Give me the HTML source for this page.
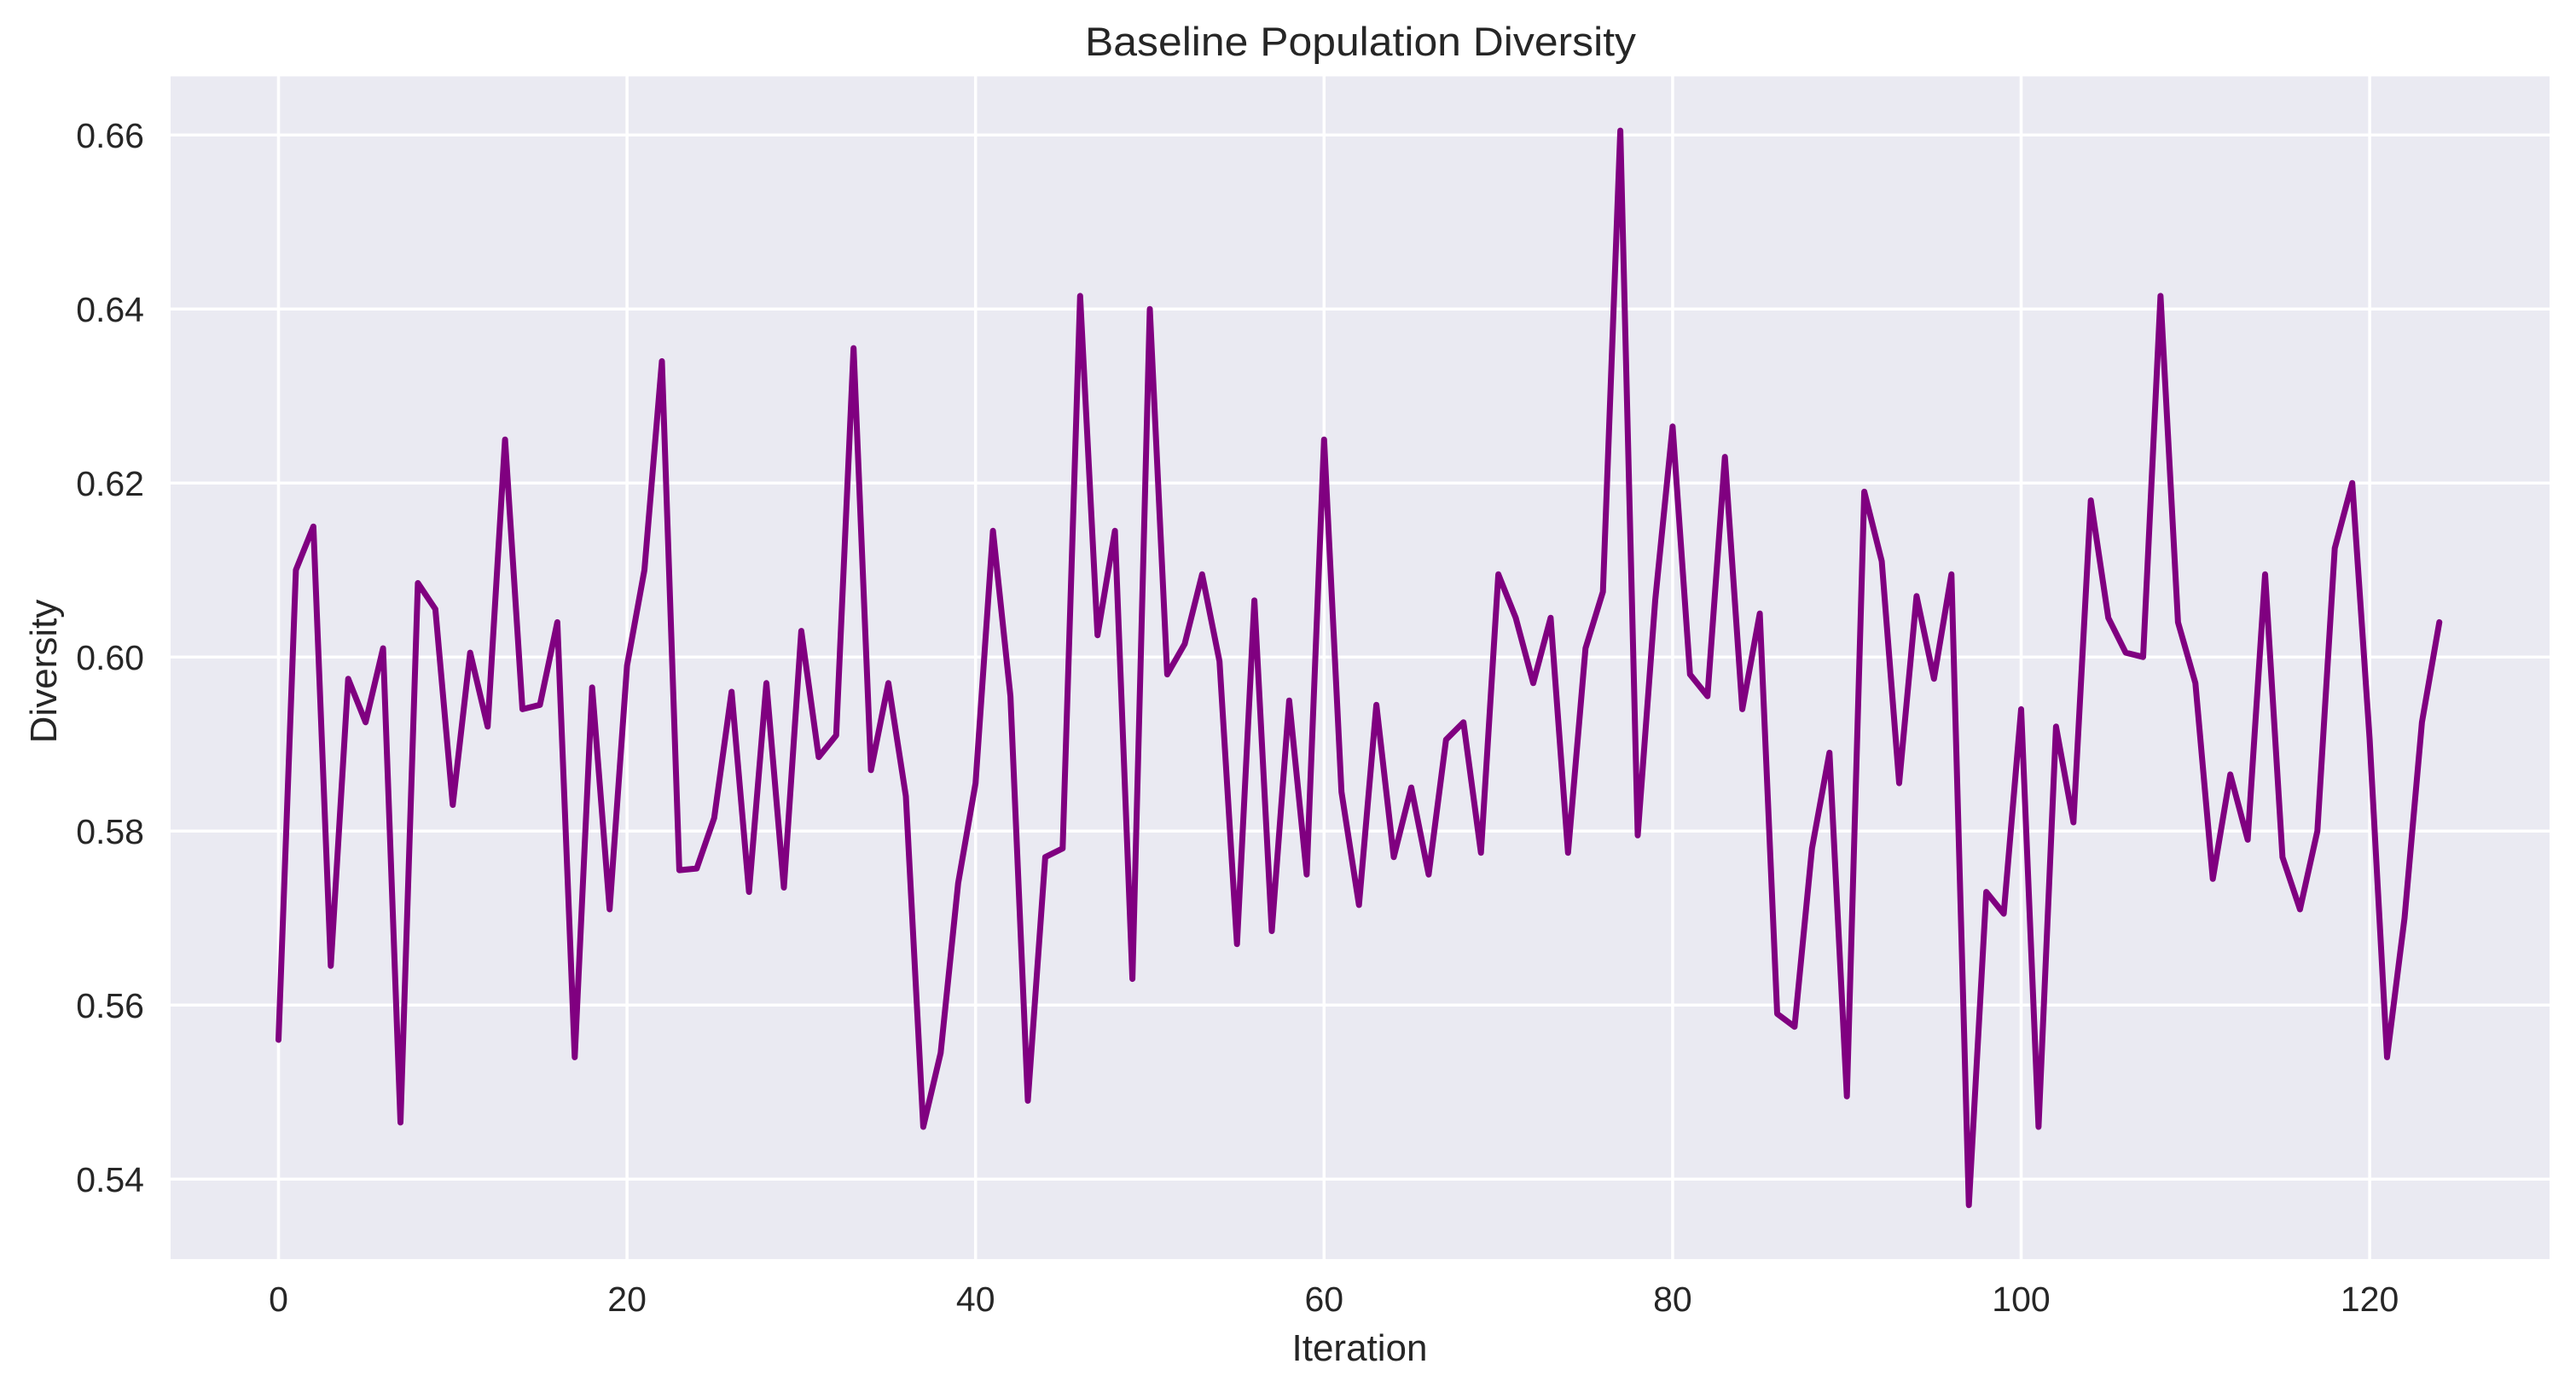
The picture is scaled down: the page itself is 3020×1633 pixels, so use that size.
<!DOCTYPE html>
<html><head><meta charset="utf-8"><style>
html,body{margin:0;padding:0;background:#fff;}
svg{display:block;font-family:"Liberation Sans",Arial,sans-serif;}
</style></head><body>
<svg id="chart" width="3020" height="1633" viewBox="0 0 3020 1633" xmlns="http://www.w3.org/2000/svg">
<rect x="0" y="0" width="3020" height="1633" fill="#ffffff"/>
<rect x="200" y="89.5" width="2789" height="1386.5" fill="#EAEAF2"/>
<g id="grid"></g>
<g id="ticks"></g>
<polyline id="line" fill="none" stroke="#800080" stroke-width="7" stroke-linejoin="round" stroke-linecap="round"/>
<text x="1595" y="65" text-anchor="middle" font-size="47" fill="#262626" textLength="646" lengthAdjust="spacingAndGlyphs">Baseline Population Diversity</text>
<text x="1594" y="1595" text-anchor="middle" font-size="44" fill="#262626">Iteration</text>
<text x="0" y="0" transform="translate(66,787) rotate(-90)" text-anchor="middle" font-size="44" fill="#262626">Diversity</text>
</svg>
<script>
const iterations = Array.from({length:125},(_,i)=>i);
const diversity = [0.556,0.610,0.615,0.5645,0.5975,0.5925,0.601,0.5465,0.6085,0.6055,
0.583,0.6005,0.592,0.625,0.594,0.5945,0.604,0.554,0.5965,0.571,
0.599,0.610,0.634,0.5755,0.5757,0.5815,0.596,0.573,0.597,0.5735,
0.603,0.5885,0.591,0.6355,0.587,0.597,0.584,0.546,0.5545,0.574,
0.5855,0.6145,0.5955,0.549,0.577,0.578,0.6415,0.6025,0.6145,0.563,
0.640,0.598,0.6015,0.6095,0.5995,0.567,0.6065,0.5685,0.595,0.575,
0.625,0.5845,0.5715,0.5945,0.577,0.585,0.575,0.5905,0.5925,0.5775,
0.6095,0.6045,0.597,0.6045,0.5775,0.601,0.6075,0.6605,0.5795,0.6065,
0.6265,0.598,0.5955,0.623,0.594,0.605,0.559,0.5575,0.578,0.589,
0.5495,0.619,0.611,0.5855,0.607,0.5975,0.6095,0.537,0.573,0.5705,
0.594,0.546,0.592,0.581,0.618,0.6045,0.6005,0.600,0.6415,0.604,
0.597,0.5745,0.5865,0.579,0.6095,0.577,0.571,0.580,0.6125,0.620,
0.5905,0.554,0.570,0.5925,0.604];
const xTicks = [0,20,40,60,80,100,120];
const yTicks = [0.54,0.56,0.58,0.60,0.62,0.64,0.66];
const yTickLabels = ["0.54","0.56","0.58","0.60","0.62","0.64","0.66"];

const NS="http://www.w3.org/2000/svg";
const X0=326.5, XU=20.43, Y66=158.2, YPER=10200;
function sx(v){return X0+v*XU;}
function sy(v){return Y66+(0.66-v)*YPER;}
const grid=document.getElementById('grid'), ticks=document.getElementById('ticks');
xTicks.forEach(t=>{
  const l=document.createElementNS(NS,'line');
  l.setAttribute('x1',sx(t));l.setAttribute('x2',sx(t));l.setAttribute('y1',89.5);l.setAttribute('y2',1476);
  l.setAttribute('stroke','#fff');l.setAttribute('stroke-width','3.5');
  
  
  grid.appendChild(l);
  const tx=document.createElementNS(NS,'text');
  tx.setAttribute('x',sx(t));tx.setAttribute('y',1537);tx.setAttribute('text-anchor','middle');
  tx.setAttribute('font-size','41');tx.setAttribute('fill','#262626');
  tx.textContent=t;
  
  
  ticks.appendChild(tx);
});
yTicks.forEach((t,i)=>{
  const l=document.createElementNS(NS,'line');
  l.setAttribute('x1',200);l.setAttribute('x2',2989);l.setAttribute('y1',sy(t));l.setAttribute('y2',sy(t));
  l.setAttribute('stroke','#fff');l.setAttribute('stroke-width','3.5');
  
  
  grid.appendChild(l);
  const tx=document.createElementNS(NS,'text');
  tx.setAttribute('x',169);tx.setAttribute('y',sy(t)+15);tx.setAttribute('text-anchor','end');
  tx.setAttribute('font-size','41');tx.setAttribute('fill','#262626');
  tx.textContent=yTickLabels[i];
  
  
  ticks.appendChild(tx);
});
document.getElementById('line').setAttribute('points',
  diversity.map((v,i)=>sx(iterations[i]).toFixed(1)+','+sy(v).toFixed(1)).join(' '));
</script>
</body></html>
